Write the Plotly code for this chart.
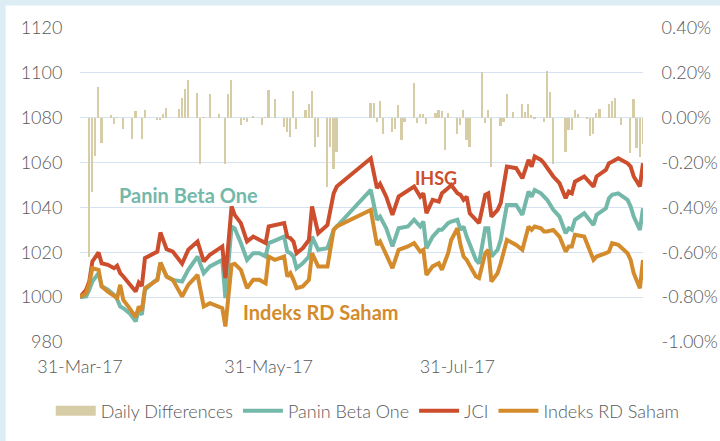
import plotly.graph_objects as go

# ---------------- data ----------------
line_dates = [
    "2017-03-31", "2017-04-02", "2017-04-03", "2017-04-04", "2017-04-06", "2017-04-07", "2017-04-09",
    "2017-04-11", "2017-04-12", "2017-04-13", "2017-04-14", "2017-04-16", "2017-04-18", "2017-04-19",
    "2017-04-20", "2017-04-21", "2017-04-24", "2017-04-25", "2017-04-26", "2017-04-28", "2017-04-30",
    "2017-05-03", "2017-05-05", "2017-05-08", "2017-05-10", "2017-05-12", "2017-05-16", "2017-05-17",
    "2017-05-19", "2017-05-20", "2017-05-22", "2017-05-24", "2017-05-26", "2017-05-28", "2017-05-30",
    "2017-05-31",
    "2017-06-02", "2017-06-05", "2017-06-06", "2017-06-07", "2017-06-08", "2017-06-09", "2017-06-11",
    "2017-06-13", "2017-06-14", "2017-06-16", "2017-06-19", "2017-06-21", "2017-06-22",
    "2017-07-03", "2017-07-05", "2017-07-06", "2017-07-08", "2017-07-10", "2017-07-12", "2017-07-15",
    "2017-07-17", "2017-07-19", "2017-07-20", "2017-07-21", "2017-07-23", "2017-07-25", "2017-07-26",
    "2017-07-28", "2017-07-29", "2017-07-31",
    "2017-08-01", "2017-08-02", "2017-08-03", "2017-08-04", "2017-08-06", "2017-08-07", "2017-08-09",
    "2017-08-10", "2017-08-11", "2017-08-13", "2017-08-14", "2017-08-16", "2017-08-19", "2017-08-21",
    "2017-08-23", "2017-08-24", "2017-08-25", "2017-08-27", "2017-08-28", "2017-08-29", "2017-08-31",
    "2017-09-02", "2017-09-04", "2017-09-05", "2017-09-06", "2017-09-07", "2017-09-10", "2017-09-13",
    "2017-09-14", "2017-09-17", "2017-09-18", "2017-09-19", "2017-09-21", "2017-09-24", "2017-09-25",
    "2017-09-26", "2017-09-28", "2017-09-29",
]

jci = [
    1000.0, 1003.3, 1007.0, 1015.9, 1019.9, 1015.1, 1014.4, 1012.9, 1014.0, 1010.7, 1009.2, 1005.5,
    1002.5, 1006.5, 1005.0, 1017.4, 1019.9, 1020.3, 1028.8, 1021.4, 1020.3,
    1014.9, 1021.1, 1024.8, 1015.9, 1018.9, 1022.6, 1008.5, 1040.4, 1036.7, 1033.0, 1024.8, 1027.0,
    1025.5, 1024.1, 1031.5,
    1032.2, 1033.0, 1027.0, 1026.3, 1024.8, 1019.6, 1021.8, 1025.5, 1040.4, 1028.5, 1032.2, 1046.3, 1049.3,
    1061.9, 1048.6, 1050.5, 1044.8, 1036.7, 1044.8, 1047.8, 1049.3, 1044.8, 1046.3, 1037.4, 1043.4,
    1042.6, 1046.3, 1048.6, 1050.0, 1046.3,
    1045.6, 1043.4, 1044.8, 1037.4, 1034.5, 1033.0, 1045.6, 1046.3, 1035.9, 1038.9, 1041.9, 1058.2,
    1057.5, 1053.0, 1061.2, 1058.2, 1062.7, 1061.2, 1059.7, 1057.5, 1053.8,
    1050.8, 1044.1, 1047.1, 1046.3, 1051.5, 1053.8, 1049.3, 1053.8, 1056.7, 1059.7, 1060.4, 1061.9,
    1059.7, 1058.2, 1053.8, 1049.3, 1059.7,
]

panin = [
    1000.0, 1000.3, 1003.3, 1007.0, 1010.7, 1004.8, 1003.3, 1001.0, 999.1, 995.8, 995.1, 992.9,
    989.2, 994.4, 992.1, 1003.3, 1007.0, 1007.7, 1015.4, 1009.2, 1007.7,
    1007.0, 1012.2, 1018.1, 1010.7, 1013.7, 1016.6, 999.6, 1031.5, 1030.7, 1024.1, 1016.6, 1019.6,
    1019.6, 1018.1, 1024.1,
    1025.2, 1027.0, 1020.3, 1019.6, 1018.1, 1012.9, 1015.1, 1018.1, 1027.0, 1021.1, 1021.8, 1030.0, 1031.5,
    1047.8, 1034.5, 1035.9, 1030.7, 1022.6, 1030.7, 1031.5, 1034.5, 1031.5, 1033.7, 1021.8, 1027.0,
    1030.0, 1030.0, 1033.0, 1033.7, 1034.5,
    1030.0, 1031.5, 1027.0, 1023.3, 1016.6, 1015.1, 1030.7, 1030.7, 1018.1, 1021.1, 1025.5, 1041.1,
    1041.1, 1036.7, 1047.1, 1044.8, 1047.8, 1046.3, 1044.8, 1043.4, 1038.9,
    1035.9, 1028.5, 1030.7, 1030.0, 1034.5, 1037.4, 1032.2, 1036.7, 1039.6, 1044.1, 1045.6, 1046.3,
    1043.4, 1040.4, 1035.9, 1030.0, 1039.6,
]

rd_saham = [
    1000.0, 1001.8, 1006.2, 1012.9, 1012.2, 1004.8, 1002.5, 1000.3, 999.6, 1005.5, 998.8, 995.1,
    991.1, 995.8, 994.1, 1004.0, 1007.0, 1007.7, 1015.4, 1009.2, 1007.7,
    1000.3, 1005.5, 1009.9, 995.8, 997.3, 995.1, 986.9, 1014.4, 1014.9, 1012.2, 1004.0, 1007.7,
    1007.7, 1006.2, 1018.1,
    1016.6, 1018.1, 1009.2, 1010.7, 1007.7, 1004.0, 1004.8, 1007.7, 1019.6, 1013.7, 1013.7, 1030.0, 1031.5,
    1038.9, 1023.3, 1024.8, 1018.9, 1012.9, 1021.1, 1022.6, 1024.1, 1020.3, 1021.1, 1009.9, 1013.7,
    1015.1, 1012.2, 1019.6, 1025.5, 1030.7,
    1023.3, 1018.1, 1016.6, 1014.4, 1009.2, 1008.5, 1019.6, 1021.1, 1007.0, 1010.7, 1015.1, 1025.5,
    1023.3, 1021.1, 1031.5, 1030.0, 1031.5, 1030.7, 1029.3, 1029.3, 1030.0,
    1027.0, 1020.3, 1022.6, 1022.6, 1027.8, 1027.0, 1016.6, 1018.1, 1019.6, 1020.3, 1024.1, 1023.3,
    1019.6, 1016.6, 1010.7, 1004.0, 1016.6,
]

diff_dates = [
    "2017-04-03", "2017-04-04", "2017-04-05", "2017-04-06", "2017-04-07", "2017-04-10", "2017-04-11",
    "2017-04-12", "2017-04-14", "2017-04-17", "2017-04-18", "2017-04-20", "2017-04-21", "2017-04-25",
    "2017-04-26", "2017-04-27", "2017-04-28",
    "2017-05-02", "2017-05-03", "2017-05-04", "2017-05-05", "2017-05-08", "2017-05-09", "2017-05-10",
    "2017-05-12", "2017-05-15", "2017-05-17", "2017-05-18", "2017-05-19", "2017-05-22", "2017-05-23",
    "2017-05-24", "2017-05-26", "2017-05-29", "2017-05-30", "2017-05-31",
    "2017-06-02", "2017-06-05", "2017-06-06", "2017-06-07", "2017-06-08", "2017-06-09", "2017-06-12",
    "2017-06-13", "2017-06-14", "2017-06-15", "2017-06-16", "2017-06-19", "2017-06-20", "2017-06-21",
    "2017-06-22",
    "2017-07-03", "2017-07-04", "2017-07-05", "2017-07-06", "2017-07-07", "2017-07-10", "2017-07-11",
    "2017-07-12", "2017-07-13", "2017-07-14", "2017-07-17", "2017-07-18", "2017-07-19", "2017-07-20",
    "2017-07-21", "2017-07-24", "2017-07-25", "2017-07-26", "2017-07-27", "2017-07-28", "2017-07-31",
    "2017-08-01", "2017-08-02", "2017-08-03", "2017-08-04", "2017-08-08", "2017-08-09", "2017-08-10",
    "2017-08-11", "2017-08-14", "2017-08-15", "2017-08-16", "2017-08-18", "2017-08-21", "2017-08-22",
    "2017-08-23", "2017-08-24", "2017-08-25", "2017-08-28", "2017-08-29", "2017-08-30", "2017-08-31",
    "2017-09-04", "2017-09-05", "2017-09-06", "2017-09-07", "2017-09-08", "2017-09-11", "2017-09-12",
    "2017-09-13", "2017-09-14", "2017-09-15", "2017-09-18", "2017-09-19", "2017-09-20", "2017-09-22",
    "2017-09-25", "2017-09-26", "2017-09-27", "2017-09-28", "2017-09-29",
]

daily_diff_pct = [
    -0.62, -0.33, -0.17, 0.137, -0.113, 0.01, -0.027, 0.003, -0.049, -0.094, 0.028, -0.094, 0.036,
    -0.009, -0.009, 0.015, 0.045,
    0.04, 0.089, 0.129, 0.169, 0.111, -0.205, 0.003, 0.107, 0.015, -0.205, 0.107, 0.169, -0.034,
    -0.009, -0.019, 0.006, -0.034, 0.003, 0.125,
    0.085, -0.042, -0.064, -0.086, 0.119, -0.049, 0.036, 0.062, 0.119, -0.131, -0.086, -0.309,
    -0.131, -0.227, -0.153,
    0.065, 0.065, -0.019, 0.074, -0.074, -0.064, -0.049, 0.055, -0.101, -0.019, 0.154, -0.024,
    0.015, 0.015, -0.027, 0.021, 0.036, 0.03, -0.143, 0.02, -0.071,
    -0.034, 0.033, -0.101, -0.131, 0.203, -0.024, 0.036, -0.22, -0.039, -0.019, 0.107, 0.025,
    0.059, 0.025, 0.062, 0.01, -0.004, -0.019, 0.208, 0.114, -0.205,
    -0.153, -0.056, -0.053, 0.036, 0.015, -0.004, -0.083, -0.071, 0.021, 0.04, 0.059, 0.074,
    0.089, -0.034, -0.157, 0.085, -0.134, -0.175, -0.116,
]

x_tick_dates = ["2017-03-31", "2017-05-31", "2017-07-31"]
left_ticks = [980, 1000, 1020, 1040, 1060, 1080, 1100, 1120]
right_ticks = [-1.0, -0.8, -0.6, -0.4, -0.2, 0.0, 0.2, 0.4]
right_tick_text = ["-1.00%", "-0.80%", "-0.60%", "-0.40%", "-0.20%", "0.00%", "0.20%", "0.40%"]

assert len(line_dates) == len(jci) == len(panin) == len(rd_saham)
assert len(diff_dates) == len(daily_diff_pct)

# ---------------- styling ----------------
C_BAR = "#d6cca6"
C_TEAL = "#74b8aa"
C_RED = "#cc4e2c"
C_ORANGE = "#d38b2c"
GRID = "#d5e2f1"
TXT = "#595959"
FONT = "Lato"
TICKFONT = dict(family=FONT, size=18, color=TXT, weight=300)

fig = go.Figure()

fig.add_trace(go.Bar(
    x=diff_dates, y=daily_diff_pct, name="Daily Differences", yaxis="y2",
    marker=dict(color=C_BAR, line=dict(width=0)), width=0.55 * 86400000,
    showlegend=False, legendgroup="diff",
))
# legend key for the bars, drawn as a wide swatch like the original
fig.add_trace(go.Scatter(
    x=[None], y=[None], name="Daily Differences", mode="lines", yaxis="y2",
    line=dict(color=C_BAR, width=12), legendgroup="diff",
))
fig.add_trace(go.Scatter(
    x=line_dates, y=panin, name="Panin Beta One", mode="lines",
    line=dict(color=C_TEAL, width=4),
))
fig.add_trace(go.Scatter(
    x=line_dates, y=jci, name="JCI", mode="lines",
    line=dict(color=C_RED, width=4),
))
fig.add_trace(go.Scatter(
    x=line_dates, y=rd_saham, name="Indeks RD Saham", mode="lines",
    line=dict(color=C_ORANGE, width=4),
))

fig.update_layout(
    width=720, height=441,
    margin=dict(l=80, r=77, t=28, b=99, autoexpand=False),
    paper_bgcolor="white", plot_bgcolor="white",
    font=dict(family=FONT, size=16, color=TXT),
    showlegend=True,
    legend=dict(orientation="h", x=-0.052, xanchor="left", y=-0.22, yanchor="middle",
                font=dict(family=FONT, size=18, color=TXT, weight=300),
                itemwidth=40, tracegroupgap=0, bgcolor="rgba(0,0,0,0)"),
    bargap=0,
    xaxis=dict(type="date", range=["2017-03-31", "2017-09-29"], tickvals=x_tick_dates,
               tickformat="%d-%b-%y", showgrid=False, zeroline=False, showline=False,
               ticks="outside", ticklen=8, tickcolor="rgba(0,0,0,0)", tickfont=TICKFONT),
    yaxis=dict(range=[980, 1120], tickvals=left_ticks, showgrid=True, gridcolor=GRID,
               gridwidth=1, zeroline=False, showline=False,
               ticks="outside", ticklen=13, tickcolor="rgba(0,0,0,0)", tickfont=TICKFONT),
    yaxis2=dict(range=[-1.0, 0.4], tickvals=right_ticks, ticktext=right_tick_text,
                overlaying="y", side="right", showgrid=False, zeroline=False, showline=False,
                ticks="outside", ticklen=14, tickcolor="rgba(0,0,0,0)", tickfont=TICKFONT),
)

# chart-frame bands (top and left edge of the screenshot)
fig.add_shape(type="rect", xref="paper", yref="paper", x0=-0.15, x1=1.15, y0=1.072, y1=1.12,
              fillcolor="#dcedf4", line=dict(width=0), layer="below")
fig.add_shape(type="rect", xref="paper", yref="paper", x0=-0.15, x1=-0.132, y0=-0.35, y1=1.12,
              fillcolor="#dcedf4", line=dict(width=0), layer="below")

# in-chart series labels
fig.add_annotation(text="<b>Panin Beta One</b>", xref="paper", yref="paper", x=0.192, y=0.468,
                   xanchor="center", yanchor="middle", showarrow=False,
                   font=dict(family=FONT, size=20, color=C_TEAL))
fig.add_annotation(text="<b>IHSG</b>", xref="paper", yref="paper", x=0.632, y=0.522,
                   xanchor="center", yanchor="middle", showarrow=False,
                   font=dict(family=FONT, size=18, color=C_RED))
fig.add_annotation(text="<b>Indeks RD Saham</b>", xref="paper", yref="paper", x=0.428, y=0.096,
                   xanchor="center", yanchor="middle", showarrow=False,
                   font=dict(family=FONT, size=20, color=C_ORANGE))

# remove the browser's default page margin so the 720x441 figure fills the window exactly
fig.write_html("out.html", config={"displayModeBar": False},
               post_script="document.body.style.margin='0';")
